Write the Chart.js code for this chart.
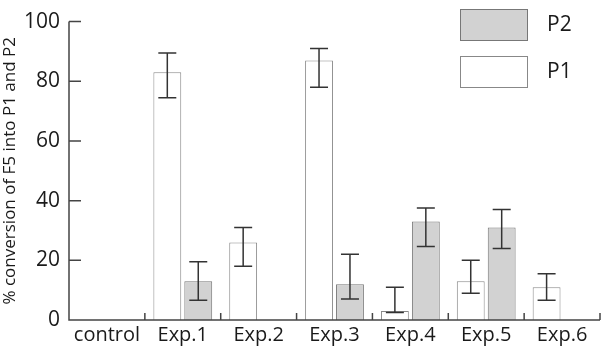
<!DOCTYPE html>
<html>
<head>
<meta charset="utf-8">
<script src="https://cdn.jsdelivr.net/npm/chart.js@4"></script>
<style>
  html, body { margin: 0; padding: 0; background: #fff; }
  #wrap { width: 601px; height: 349px; }
</style>
</head>
<body>
<div id="wrap"><canvas id="myChart"></canvas></div>
<script>
const categories = ['control', 'Exp.1', 'Exp.2', 'Exp.3', 'Exp.4', 'Exp.5', 'Exp.6'];
const p1Values = [0, 83, 26, 87, 3, 13, 11];
const p1Low    = [0, 74.5, 18, 78, 2.5, 9, 6.6];
const p1High   = [0, 89.5, 31, 91, 11, 20, 15.5];
const p2Values = [0, 13, 0, 12, 33, 31, 0];
const p2Low    = [0, 6.6, 0, 7, 24.6, 24, 0];
const p2High   = [0, 19.5, 0, 22, 37.5, 37, 0];
const yTicks = [0, 20, 40, 60, 80, 100];

const FONT = '"Open Sans", sans-serif';
const INK = '#1a1a1a';

// error bars drawn on top of each bar
const errorBars = {
  id: 'errorBars',
  afterDatasetsDraw(chart) {
    const c = chart.ctx;
    const y = chart.scales.y;
    c.save();
    c.strokeStyle = '#333';
    c.lineWidth = 1.5;
    chart.data.datasets.forEach((ds, i) => {
      const meta = chart.getDatasetMeta(i);
      meta.data.forEach((bar, j) => {
        if (!ds.data[j]) return;
        const lo = y.getPixelForValue(ds.errLow[j]);
        const hi = y.getPixelForValue(ds.errHigh[j]);
        const x = bar.x;
        c.beginPath();
        c.moveTo(x, lo); c.lineTo(x, hi);
        c.moveTo(x - 9, lo); c.lineTo(x + 9, lo);
        c.moveTo(x - 9, hi); c.lineTo(x + 9, hi);
        c.stroke();
      });
    });
    c.restore();
  }
};

// inward tick marks and axis lines
const axisTicks = {
  id: 'axisTicks',
  afterDraw(chart) {
    const c = chart.ctx;
    const { x, y } = chart.scales;
    const a = chart.chartArea;
    c.save();
    c.strokeStyle = '#444';
    c.lineWidth = 1.5;
    c.beginPath();
    c.moveTo(a.left, a.top); c.lineTo(a.left, a.bottom); c.lineTo(a.right, a.bottom);
    yTicks.forEach(v => {
      const py = y.getPixelForValue(v);
      c.moveTo(a.left, py); c.lineTo(a.left + 12, py);
    });
    for (let i = 1; i <= categories.length; i++) {
      const px = x.getPixelForValue(i - 0.5);
      c.moveTo(px, a.bottom); c.lineTo(px, a.bottom - 7);
    }
    c.stroke();
    c.restore();
  }
};

// legend: P2 above P1, boxes at the top right
const boxLegend = {
  id: 'boxLegend',
  afterDraw(chart) {
    const c = chart.ctx;
    c.save();
    c.font = '21px ' + FONT;
    c.textBaseline = 'middle';
    c.fillStyle = INK;
    const items = chart.data.datasets.slice().reverse();
    items.forEach((ds, k) => {
      const top = 9 + k * 47;
      c.fillStyle = ds.backgroundColor;
      c.fillRect(460, top, 67, 31);
      c.strokeStyle = ds.borderColor;
      c.lineWidth = 1;
      c.strokeRect(460.5, top + 0.5, 67, 31);
      c.fillStyle = INK;
      c.fillText(ds.label, 547, top + 16);
    });
    c.restore();
  }
};

new Chart(document.getElementById('myChart'), {
  type: 'bar',
  data: {
    labels: categories,
    datasets: [
      {
        label: 'P1',
        data: p1Values,
        errLow: p1Low,
        errHigh: p1High,
        backgroundColor: '#ffffff',
        borderColor: '#888888',
        borderWidth: 1
      },
      {
        label: 'P2',
        data: p2Values,
        errLow: p2Low,
        errHigh: p2High,
        backgroundColor: '#d2d2d2',
        borderColor: '#777777',
        borderWidth: 1
      }
    ]
  },
  options: {
    responsive: true,
    maintainAspectRatio: false,
    animation: false,
    categoryPercentage: 0.816,
    barPercentage: 0.9,
    layout: { padding: { top: 7, right: 1 } },
    plugins: {
      legend: { display: false },
      tooltip: { enabled: false }
    },
    scales: {
      x: {
        grid: { display: false, drawTicks: false },
        border: { display: false },
        ticks: { color: INK, font: { family: FONT, size: 20 }, padding: 3 },
        afterFit: s => { s.height = 29; }
      },
      y: {
        min: 0,
        max: 100,
        afterBuildTicks: s => { s.ticks = yTicks.map(v => ({ value: v })); },
        grid: { display: false, drawTicks: false },
        border: { display: false },
        ticks: { color: INK, font: { family: FONT, size: 21 }, padding: 9 },
        title: {
          display: true,
          text: '% conversion of F5 into P1 and P2',
          color: INK,
          font: { family: FONT, size: 17 },
          padding: { top: 0, bottom: 0 }
        },
        afterFit: s => { s.width = 69; }
      }
    }
  },
  plugins: [errorBars, axisTicks, boxLegend]
});
</script>
</body>
</html>
